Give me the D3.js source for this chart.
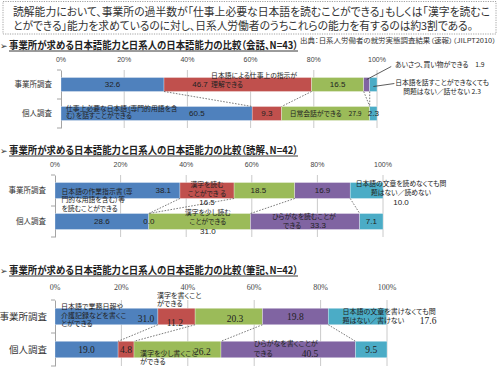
<!DOCTYPE html>
<html>
<head>
<meta charset="utf-8">
<script src="https://cdn.jsdelivr.net/npm/d3@7"></script>
<style>
    body { margin: 0; background: #fff; }
    svg text { font-family: "Noto Sans CJK JP", "Noto Sans", sans-serif; font-feature-settings: "palt" 1; fill: #222; }
    .num { font-family: "Liberation Sans", Arial, sans-serif; }
    .serif { font-family: "Liberation Serif", "DejaVu Serif", serif; }
</style>
</head>
<body>
<div id="chart"></div>
<script>

// ---- data ----
const categories = ["事業所調査", "個人調査"];
const tickValues = [0, 20, 40, 60, 80, 100];
const seriesColors = ["#4F81BD", "#C0504D", "#9BBB59", "#8064A2", "#4BACC6"];

const kaiwaOffice = [32.6, 46.7, 16.5, 1.9, 2.3];
const kaiwaPerson = [60.5, 9.3, 27.9, 0, 2.3];
const dokkaiOffice = [38.1, 16.5, 18.5, 16.9, 10.0];
const dokkaiPerson = [28.6, 0.0, 31.0, 33.3, 7.1];
const hikkiOffice = [31.0, 11.2, 20.3, 19.8, 17.6];
const hikkiPerson = [19.0, 4.8, 26.2, 40.5, 9.5];

const headerLines = [
    "読解能力において、事業所の過半数が「仕事上必要な日本語を読むことができる」もしくは「漢字を読むこ",
    "とができる」能力を求めているのに対し、日系人労働者のうちこれらの能力を有するのは約3割である。"
];
const panelTitles = [
    "事業所が求める日本語能力と日系人の日本語能力の比較（会話、N=43）",
    "事業所が求める日本語能力と日系人の日本語能力の比較（読解、N=42）",
    "事業所が求める日本語能力と日系人の日本語能力の比較（筆記、N=42）"
];
const sourceNote = "出典：日系人労働者の就労実態調査結果（速報）（JILPT2010）";

const fmt = d3.format(".1f");

const svg = d3.select("#chart").append("svg")
    .attr("width", 500)
    .attr("height", 367);

// header box
svg.append("rect")
    .attr("x", 3).attr("y", 1.5)
    .attr("width", 493).attr("height", 32.5)
    .attr("fill", "none")
    .attr("stroke", "#8c8c8c")
    .attr("stroke-width", 0.8)
    .attr("stroke-dasharray", "1.2,1.2");

svg.append("text")
    .attr("x", 13)
    .attr("y", 16)
    .style("font-size", "11px")
    .style("fill", "#333")
    .selectAll("tspan")
    .data(headerLines)
    .enter().append("tspan")
    .attr("x", 13)
    .attr("dy", (d, i) => i === 0 ? 0 : 14)
    .attr("textLength", (d, i) => i === 0 ? 477 : 460)
    .attr("lengthAdjust", "spacingAndGlyphs")
    .text(d => d);

svg.append("text")
    .attr("x", 300).attr("y", 43)
    .attr("textLength", 196)
    .attr("lengthAdjust", "spacingAndGlyphs")
    .style("font-size", "6.5px")
    .style("fill", "#333")
    .text(sourceNote);

// panel layout; label positions are given in percent units and mapped through the x scale
const panels = [
    {
        title: panelTitles[0], titleY: 49, office: kaiwaOffice, person: kaiwaPerson,
        x0: 61, x1: 377, y0: 70, y1: 128, pi: 0.517, po: 0.2585, tickY: 62, serif: false,
        labels: [
            {row: 0, seg: 0},
            {row: 0, seg: 1, p: 44},
            {row: 0, p: 47.5, dy: -8.5, lh: 8.5, anchor: "start", lines: ["日本語による仕事上の指示が", "理解できる"]},
            {row: 0, seg: 2},
            {row: 0, p: 105.7, dy: -20, anchor: "start", lines: ["あいさつ、買い物ができる　" + fmt(kaiwaOffice[3])]},
            {row: 0, p: 120.6, dy: -2, lh: 9, lines: ["日本語を話すことができなくても", "問題はない／話せない " + fmt(kaiwaOffice[4])]},
            {row: 1, p: 1.6, dy: -5, lh: 7.5, anchor: "start", lines: ["仕事上必要な日本語（専門的用語を含", "む）を話すことができる"]},
            {row: 1, seg: 0, p: 43},
            {row: 1, seg: 1},
            {row: 1, seg: 2, lines: ["日常会話ができる　" + fmt(kaiwaPerson[2])]},
            {row: 1, seg: 4}
        ],
        leaders: [
            {seg: 3, dy: -5, p: 104.5, ty: -18},
            {seg: 4, dy: 2, p: 105.5, ty: -1}
        ]
    },
    {
        title: panelTitles[1], titleY: 154, office: dokkaiOffice, person: dokkaiPerson,
        x0: 55, x1: 383, y0: 175, y1: 237, pi: 0.484, po: 0.242, tickY: 167, serif: false,
        labels: [
            {row: 0, p: 2.0, dy: 0.7, lh: 8.6, anchor: "start", lines: ["日本語の作業指示書（専", "門的な用語を含む）等", "を読むことができる"]},
            {row: 0, seg: 0, p: 33},
            {row: 0, seg: 1, dy: -6, lh: 9, lines: ["漢字を読む", "ことができ る"]},
            {row: 0, seg: 1, dy: 11.5},
            {row: 0, seg: 2, p: 62},
            {row: 0, seg: 3},
            {row: 0, p: 105.5, dy: -7, lh: 9, lines: ["日本語の文章を読めなくても問", "題はない／読めない"]},
            {row: 0, seg: 4, p: 105.5, dy: 11.5},
            {row: 1, seg: 0},
            {row: 1, seg: 1, p: 28.6},
            {row: 1, p: 46.6, dy: -9, lh: 9, lines: ["漢字を少し読む", "ことができる"]},
            {row: 1, seg: 2, p: 46.6, dy: 9.5},
            {row: 1, p: 75.9, dy: -5, lines: ["ひらがなを読むことが"]},
            {row: 1, p: 69.5, dy: 4, anchor: "start", lines: ["できる"]},
            {row: 1, seg: 3, p: 80.2, dy: 4},
            {row: 1, seg: 4}
        ],
        leaders: []
    },
    {
        title: panelTitles[2], titleY: 274, office: hikkiOffice, person: hikkiPerson,
        x0: 55, x1: 387, y0: 300, y1: 366, pi: 0.5, po: 0.25, tickY: 290, serif: true,
        labels: [
            {row: 0, p: 1.8, dy: -9.5, lh: 8.2, anchor: "start", lines: ["日本語で業務日報や", "介護記録などを書くこ", "とができる"]},
            {row: 0, seg: 0, p: 27.4, dy: 2},
            {row: 0, p: 30.7, dy: -20.5, lh: 8, anchor: "start", lines: ["漢字を書くこと", "ができる"]},
            {row: 0, seg: 1, p: 36.1, dy: 6.5},
            {row: 0, seg: 2, p: 54.2, dy: 2},
            {row: 0, seg: 3},
            {row: 0, p: 86.6, dy: -4.5, lh: 9, anchor: "start", lines: ["日本語の文章を書けなくても問", "題はない／書けない"]},
            {row: 0, seg: 4, p: 109.9, dy: 4.5, anchor: "start"},
            {row: 1, seg: 0},
            {row: 1, seg: 1},
            {row: 1, p: 25.6, dy: 4, lh: 8, anchor: "start", lines: ["漢字を少し書くこと", "ができる"]},
            {row: 1, seg: 2, p: 44.4, dy: 2.5},
            {row: 1, p: 59.9, dy: -6, lh: 10, anchor: "start", lines: ["ひらがなを書くことが", "できる"]},
            {row: 1, seg: 3, p: 76.8, dy: 4},
            {row: 1, seg: 4}
        ],
        leaders: []
    }
];

panels.forEach(drawPanel);

function drawPanel(cfg) {
    let g = svg.append("g");

    // title with arrow marker and underline
    g.append("text")
        .attr("x", 0).attr("y", cfg.titleY)
        .style("font-size", "9px")
        .style("fill", "#333")
        .text("➢");
    g.append("text")
        .attr("x", 9).attr("y", cfg.titleY)
        .attr("textLength", 289)
        .attr("lengthAdjust", "spacingAndGlyphs")
        .style("font-size", "10.5px")
        .style("font-weight", "bold")
        .style("fill", "#222")
        .text(cfg.title);
    g.append("line")
        .attr("x1", 9).attr("x2", 298)
        .attr("y1", cfg.titleY + 2).attr("y2", cfg.titleY + 2)
        .attr("stroke", "#222")
        .attr("stroke-width", 0.9);

    let x = d3.scaleLinear().domain([0, 100]).range([cfg.x0, cfg.x1]);
    let y = d3.scaleBand().domain(categories).range([cfg.y0, cfg.y1])
        .paddingInner(cfg.pi).paddingOuter(cfg.po);

    // gridlines
    g.selectAll(".grid")
        .data(tickValues.slice(1))
        .enter().append("line")
        .attr("x1", d => x(d)).attr("x2", d => x(d))
        .attr("y1", cfg.y0).attr("y2", cfg.y1)
        .attr("stroke", "#c4c4c4")
        .attr("stroke-width", 0.9);

    // left category axis
    let yAxis = d3.axisLeft(y).tickSize(0).tickFormat("");
    let axisG = g.append("g")
        .attr("transform", `translate(${cfg.x0},0)`)
        .call(yAxis);
    axisG.select(".domain").attr("stroke", "#9a9a9a").attr("stroke-width", 0.9);
    let bounds = [cfg.y0, (y(categories[0]) + y.bandwidth() + y(categories[1])) / 2, cfg.y1];
    g.selectAll(".ytick")
        .data(bounds)
        .enter().append("line")
        .attr("x1", cfg.x0 - 4).attr("x2", cfg.x0)
        .attr("y1", d => d).attr("y2", d => d)
        .attr("stroke", "#9a9a9a")
        .attr("stroke-width", 0.9);

    // category labels
    g.selectAll(".cat")
        .data(categories)
        .enter().append("text")
        .attr("x", cfg.x0 - (cfg.serif ? 8 : 9))
        .attr("y", d => y(d) + y.bandwidth() / 2)
        .attr("dy", "0.35em")
        .attr("text-anchor", "end")
        .style("font-size", cfg.serif ? "9.5px" : "7.5px")
        .style("fill", "#333")
        .text(d => d);

    // tick labels
    g.selectAll(".tick-label")
        .data(tickValues)
        .enter().append("text")
        .attr("class", cfg.serif ? "serif" : "num")
        .attr("x", d => x(d))
        .attr("y", cfg.tickY)
        .attr("text-anchor", "middle")
        .style("font-size", cfg.serif ? "8px" : "7px")
        .style("fill", "#444")
        .text(d => d + "%");

    // stacked bars
    let rows = [cfg.office, cfg.person];
    let stacked = rows.map(vals => {
        let acc = 0;
        return vals.map((v, i) => {
            let s = {start: acc, end: acc + v, value: v, color: seriesColors[i]};
            acc += v;
            return s;
        });
    });

    stacked.forEach((segs, r) => {
        g.selectAll(".bar-" + r)
            .data(segs.filter(s => s.value > 0))
            .enter().append("rect")
            .attr("x", d => x(d.start))
            .attr("y", y(categories[r]))
            .attr("width", d => x(d.end) - x(d.start))
            .attr("height", y.bandwidth())
            .attr("fill", d => d.color)
            .attr("stroke", "rgba(255,255,255,0.6)")
            .attr("stroke-width", 0.5);
    });

    // dashed connectors between the two bars
    let bottom0 = y(categories[0]) + y.bandwidth();
    let top1 = y(categories[1]);
    g.selectAll(".conn")
        .data(stacked[0].slice(0, -1).map((s, i) => [s.end, stacked[1][i].end]))
        .enter().append("line")
        .attr("x1", d => x(d[0])).attr("y1", bottom0)
        .attr("x2", d => x(d[1])).attr("y2", top1)
        .attr("stroke", "#444")
        .attr("stroke-width", 0.7)
        .attr("stroke-dasharray", "1.6,1.4");

    // leader lines for small segments
    let cy0 = y(categories[0]) + y.bandwidth() / 2;
    cfg.leaders.forEach(l => {
        let s = stacked[0][l.seg];
        g.append("line")
            .attr("x1", x((s.start + s.end) / 2)).attr("y1", cy0 + l.dy)
            .attr("x2", x(l.p)).attr("y2", cy0 + l.ty)
            .attr("stroke", "#333")
            .attr("stroke-width", 0.8);
    });

    // labels: value labels come from the segment, text labels may span several lines
    cfg.labels.forEach(lb => {
        let cy = y(categories[lb.row]) + y.bandwidth() / 2;
        let seg = lb.seg !== undefined ? stacked[lb.row][lb.seg] : null;
        let px = lb.p !== undefined ? lb.p : (seg.start + seg.end) / 2;
        let isNum = lb.lines === undefined;
        let t = g.append("text")
            .attr("class", isNum ? (cfg.serif ? "serif" : "num") : null)
            .attr("x", x(px))
            .attr("y", cy + (lb.dy || 0))
            .attr("dy", "0.35em")
            .attr("text-anchor", lb.anchor || "middle")
            .style("font-size", isNum ? (cfg.serif ? "9.5px" : "8px") : (cfg.serif ? "7px" : "6.8px"))
            .style("fill", "#222");
        if (isNum) {
            t.text(fmt(seg.value));
        } else {
            t.selectAll("tspan")
                .data(lb.lines)
                .enter().append("tspan")
                .attr("x", x(px))
                .attr("dy", (d, i) => i === 0 ? "0.35em" : lb.lh)
                .text(d => d);
        }
    });
}

</script>
</body>
</html>
